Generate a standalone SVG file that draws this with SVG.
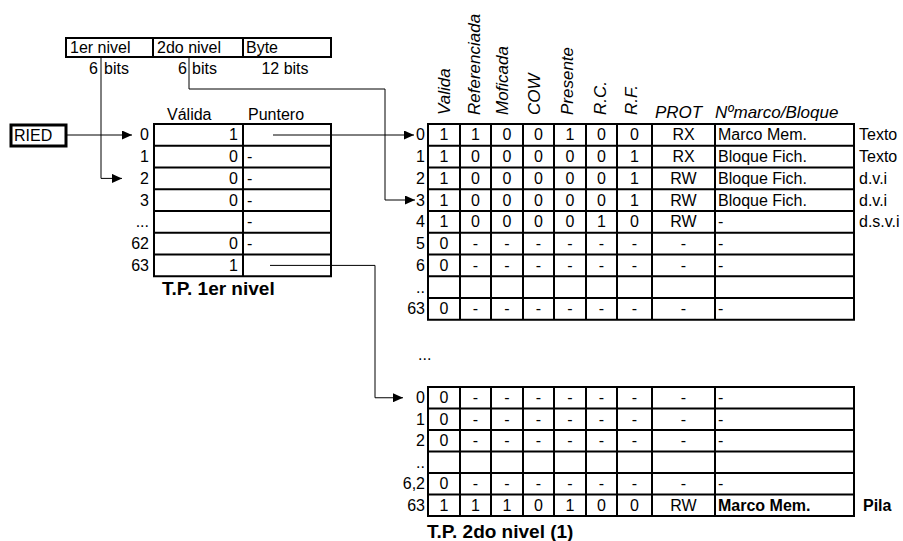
<svg xmlns="http://www.w3.org/2000/svg" width="903" height="541" viewBox="0 0 903 541">
<style>
text{font-family:"Liberation Sans",Arial,sans-serif;font-size:16px;fill:#000}
.c{text-anchor:middle}.r{text-anchor:end}.i{font-style:italic}.b{font-weight:bold}
.h{font-style:italic;font-size:17px}
.ttl{font-weight:bold;font-size:19px}
.g{fill:none;stroke:#000;stroke-width:2}
.k{fill:none;stroke:#000;stroke-width:1}
</style>
<defs>
<marker id="ah" markerUnits="userSpaceOnUse" markerWidth="11" markerHeight="9" refX="10" refY="4.5" orient="auto">
<path d="M0,0 L10,4.5 L0,9 Z" fill="#000"/>
</marker>
</defs>
<rect width="903" height="541" fill="#fff"/>

<g id="address">
<rect class="g" x="66" y="38" width="265" height="19"/>
<path class="g" d="M153,38V57M243,38V57"/>
<text x="70" y="53">1er nivel</text>
<text x="157" y="53">2do nivel</text>
<text x="246" y="53">Byte</text>
<text x="98" y="74" class="r">6</text><text x="104" y="74">bits</text>
<text x="187" y="74" class="r">6</text><text x="192" y="74">bits</text>
<text x="285" y="74" class="c">12 bits</text>
</g>

<g id="ried">
<rect x="11" y="125" width="55" height="21" fill="#fff" stroke="#000" stroke-width="3"/>
<text x="14" y="141">RIED</text>
</g>

<g id="tp1">
<text x="167" y="120">Válida</text>
<text x="248" y="120">Puntero</text>
<rect class="g" x="154" y="124" width="177" height="152.25"/>
<path class="g" d="M243,124V276.25M154,145.75H331M154,167.5H331M154,189.25H331M154,211H331M154,232.75H331M154,254.5H331"/>
<text x="149" y="140" class="r">0</text>
<text x="149" y="162" class="r">1</text>
<text x="149" y="184" class="r">2</text>
<text x="149" y="206" class="r">3</text>
<text x="149" y="227" class="r">...</text>
<text x="149" y="249" class="r">62</text>
<text x="149" y="271" class="r">63</text>
<text x="238" y="140" class="r">1</text>
<text x="238" y="162" class="r">0</text>
<text x="238" y="184" class="r">0</text>
<text x="238" y="206" class="r">0</text>
<text x="238" y="249" class="r">0</text>
<text x="238" y="271" class="r">1</text>
<text x="247" y="162">-</text>
<text x="247" y="184">-</text>
<text x="247" y="206">-</text>
<text x="247" y="227">-</text>
<text x="247" y="249">-</text>
<text x="162" y="295" class="ttl">T.P. 1er nivel</text>
</g>

<g id="tp2-header">
<text class="h" transform="translate(450,115) rotate(-90)">Valida</text>
<text class="h" transform="translate(480,115) rotate(-90)">Referenciada</text>
<text class="h" transform="translate(508,115) rotate(-90)">Moficada</text>
<text class="h" transform="translate(540,115) rotate(-90)">COW</text>
<text class="h" transform="translate(573,115) rotate(-90)">Presente</text>
<text class="h" transform="translate(606,115) rotate(-90)">R.C.</text>
<text class="h" transform="translate(637,115) rotate(-90)">R.F.</text>
<text class="h" x="655" y="118">PROT</text>
<text class="h" x="715" y="118">Nºmarco/Bloque</text>
</g>

<g id="tp2-0">
<rect class="g" x="428" y="124" width="426" height="195.75"/>
<path class="g" d="M460,124V319.75M491,124V319.75M523,124V319.75M554,124V319.75M586,124V319.75M617,124V319.75M652,124V319.75M715,124V319.75M428,145.75H854M428,167.5H854M428,189.25H854M428,211H854M428,232.75H854M428,254.5H854M428,276.25H854M428,298H854"/>
<text x="425" y="140" class="r">0</text>
<text x="425" y="162" class="r">1</text>
<text x="425" y="184" class="r">2</text>
<text x="425" y="206" class="r">3</text>
<text x="425" y="227" class="r">4</text>
<text x="425" y="249" class="r">5</text>
<text x="425" y="271" class="r">6</text>
<text x="425" y="293" class="r">..</text>
<text x="425" y="314" class="r">63</text>
<text class="c" x="444" y="140">1</text><text class="c" x="475.5" y="140">1</text><text class="c" x="507" y="140">0</text><text class="c" x="538.5" y="140">0</text><text class="c" x="570" y="140">1</text><text class="c" x="601.5" y="140">0</text><text class="c" x="634.5" y="140">0</text><text class="c" x="683.5" y="140">RX</text>
<text class="c" x="444" y="162">1</text><text class="c" x="475.5" y="162">0</text><text class="c" x="507" y="162">0</text><text class="c" x="538.5" y="162">0</text><text class="c" x="570" y="162">0</text><text class="c" x="601.5" y="162">0</text><text class="c" x="634.5" y="162">1</text><text class="c" x="683.5" y="162">RX</text>
<text class="c" x="444" y="184">1</text><text class="c" x="475.5" y="184">0</text><text class="c" x="507" y="184">0</text><text class="c" x="538.5" y="184">0</text><text class="c" x="570" y="184">0</text><text class="c" x="601.5" y="184">0</text><text class="c" x="634.5" y="184">1</text><text class="c" x="683.5" y="184">RW</text>
<text class="c" x="444" y="206">1</text><text class="c" x="475.5" y="206">0</text><text class="c" x="507" y="206">0</text><text class="c" x="538.5" y="206">0</text><text class="c" x="570" y="206">0</text><text class="c" x="601.5" y="206">0</text><text class="c" x="634.5" y="206">1</text><text class="c" x="683.5" y="206">RW</text>
<text class="c" x="444" y="227">1</text><text class="c" x="475.5" y="227">0</text><text class="c" x="507" y="227">0</text><text class="c" x="538.5" y="227">0</text><text class="c" x="570" y="227">0</text><text class="c" x="601.5" y="227">1</text><text class="c" x="634.5" y="227">0</text><text class="c" x="683.5" y="227">RW</text>
<text class="c" x="444" y="249">0</text><text class="c" x="475.5" y="249">-</text><text class="c" x="507" y="249">-</text><text class="c" x="538.5" y="249">-</text><text class="c" x="570" y="249">-</text><text class="c" x="601.5" y="249">-</text><text class="c" x="634.5" y="249">-</text><text class="c" x="683.5" y="249">-</text>
<text class="c" x="444" y="271">0</text><text class="c" x="475.5" y="271">-</text><text class="c" x="507" y="271">-</text><text class="c" x="538.5" y="271">-</text><text class="c" x="570" y="271">-</text><text class="c" x="601.5" y="271">-</text><text class="c" x="634.5" y="271">-</text><text class="c" x="683.5" y="271">-</text>
<text class="c" x="444" y="314">0</text><text class="c" x="475.5" y="314">-</text><text class="c" x="507" y="314">-</text><text class="c" x="538.5" y="314">-</text><text class="c" x="570" y="314">-</text><text class="c" x="601.5" y="314">-</text><text class="c" x="634.5" y="314">-</text><text class="c" x="683.5" y="314">-</text>
<text x="718" y="140">Marco Mem.</text>
<text x="718" y="162">Bloque Fich.</text>
<text x="718" y="184">Bloque Fich.</text>
<text x="718" y="206">Bloque Fich.</text>
<text x="718" y="227">-</text>
<text x="718" y="249">-</text>
<text x="718" y="271">-</text>
<text x="718" y="314">-</text>
<text x="859" y="140">Texto</text>
<text x="859" y="162">Texto</text>
<text x="859" y="184">d.v.i</text>
<text x="859" y="206">d.v.i</text>
<text x="859" y="227">d.s.v.i</text>
</g>

<text x="418" y="360">...</text>

<g id="tp2-1">
<rect class="g" x="428" y="387" width="426" height="129"/>
<path class="g" d="M460,387V516M491,387V516M523,387V516M554,387V516M586,387V516M617,387V516M652,387V516M715,387V516M428,408.5H854M428,430H854M428,451.5H854M428,473H854M428,494.5H854"/>
<text x="425" y="403" class="r">0</text>
<text x="425" y="425" class="r">1</text>
<text x="425" y="446" class="r">2</text>
<text x="425" y="468" class="r">..</text>
<text x="425" y="489" class="r">6,2</text>
<text x="425" y="511" class="r">63</text>
<text class="c" x="444" y="403">0</text><text class="c" x="475.5" y="403">-</text><text class="c" x="507" y="403">-</text><text class="c" x="538.5" y="403">-</text><text class="c" x="570" y="403">-</text><text class="c" x="601.5" y="403">-</text><text class="c" x="634.5" y="403">-</text><text class="c" x="683.5" y="403">-</text>
<text class="c" x="444" y="425">0</text><text class="c" x="475.5" y="425">-</text><text class="c" x="507" y="425">-</text><text class="c" x="538.5" y="425">-</text><text class="c" x="570" y="425">-</text><text class="c" x="601.5" y="425">-</text><text class="c" x="634.5" y="425">-</text><text class="c" x="683.5" y="425">-</text>
<text class="c" x="444" y="446">0</text><text class="c" x="475.5" y="446">-</text><text class="c" x="507" y="446">-</text><text class="c" x="538.5" y="446">-</text><text class="c" x="570" y="446">-</text><text class="c" x="601.5" y="446">-</text><text class="c" x="634.5" y="446">-</text><text class="c" x="683.5" y="446">-</text>
<text class="c" x="444" y="489">0</text><text class="c" x="475.5" y="489">-</text><text class="c" x="507" y="489">-</text><text class="c" x="538.5" y="489">-</text><text class="c" x="570" y="489">-</text><text class="c" x="601.5" y="489">-</text><text class="c" x="634.5" y="489">-</text><text class="c" x="683.5" y="489">-</text>
<text class="c" x="444" y="511">1</text><text class="c" x="475.5" y="511">1</text><text class="c" x="507" y="511">1</text><text class="c" x="538.5" y="511">0</text><text class="c" x="570" y="511">1</text><text class="c" x="601.5" y="511">0</text><text class="c" x="634.5" y="511">0</text><text class="c" x="683.5" y="511">RW</text>
<text x="718" y="403">-</text>
<text x="718" y="425">-</text>
<text x="718" y="446">-</text>
<text x="718" y="489">-</text>
<text x="718" y="511" class="b">Marco Mem.</text>
<text x="863" y="511" class="b">Pila</text>
<text x="427" y="538" class="ttl">T.P. 2do nivel (1)</text>
</g>

<g id="connectors">
<path class="k" d="M67,135H132" marker-end="url(#ah)"/>
<path class="k" d="M101,57V178.4H122" marker-end="url(#ah)"/>
<path class="k" d="M189,57V89H385V200H415" marker-end="url(#ah)"/>
<path class="k" d="M273,135H414" marker-end="url(#ah)"/>
<path class="k" d="M270,265.4H375V397.75H403" marker-end="url(#ah)"/>
</g>
</svg>
